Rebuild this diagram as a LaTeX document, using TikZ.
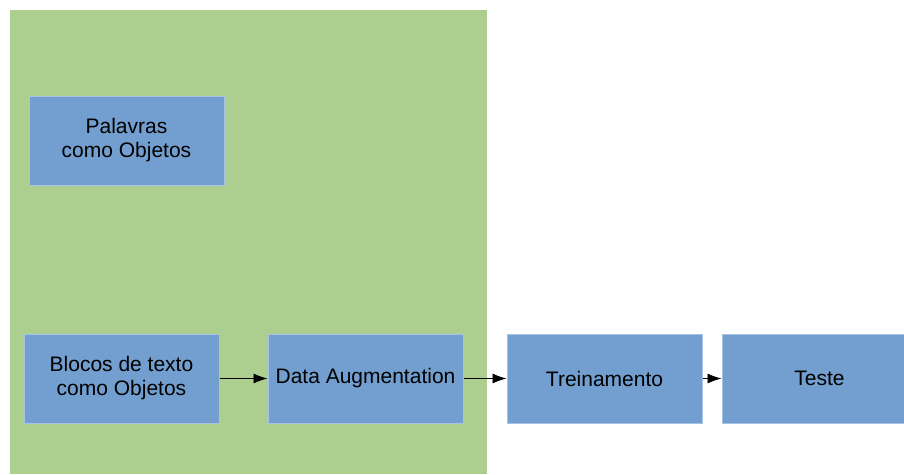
\documentclass[tikz,border=0pt]{standalone}
\usepackage{fontspec}
\setmainfont{Liberation Sans}
\usetikzlibrary{positioning,arrows.meta}
\definecolor{boxgreen}{RGB}{172,206,143}
\definecolor{boxblue}{RGB}{114,159,207}
\definecolor{boxedge}{RGB}{165,195,228}
\tikzstyle{blue box}=[
    draw = boxedge,
    line width = 1pt,
    fill = boxblue,
    minimum width = 195pt,
    minimum height = 89pt,
    align = center,
    inner sep = 0pt,
    font = \fontsize{21}{24}\selectfont
]

\begin{document}
\begin{tikzpicture}[x=1pt, y=-1pt, flow/.style = {draw, line width=0.9pt, -{Latex[length=14pt,width=10pt]}}]
        \useasboundingbox (0,0) rectangle (904,474);
        \clip (0,0) rectangle (904,474);
        \fill[boxgreen] (9.5,9.5) rectangle (487,474);

        \node[blue box] (palavras) at (126.5,140.5) {Palavras\\ como Objetos};
        \node[blue box] (blocos) at (121.5,378.5) {Blocos de texto\\como Objetos};
        \node[blue box] (augment) [right = 48pt of blocos] {Data Augmentation};
        \node[blue box] (treino) [right = 43pt of augment] {Treinamento};
        \node[blue box] (teste) [right = 19pt of treino] {Teste};

        \draw[flow] (blocos) -- (augment);
        \draw[flow] (augment) -- (treino);
        \draw[flow] (treino) -- (teste);

    \end{tikzpicture}
\end{document}
